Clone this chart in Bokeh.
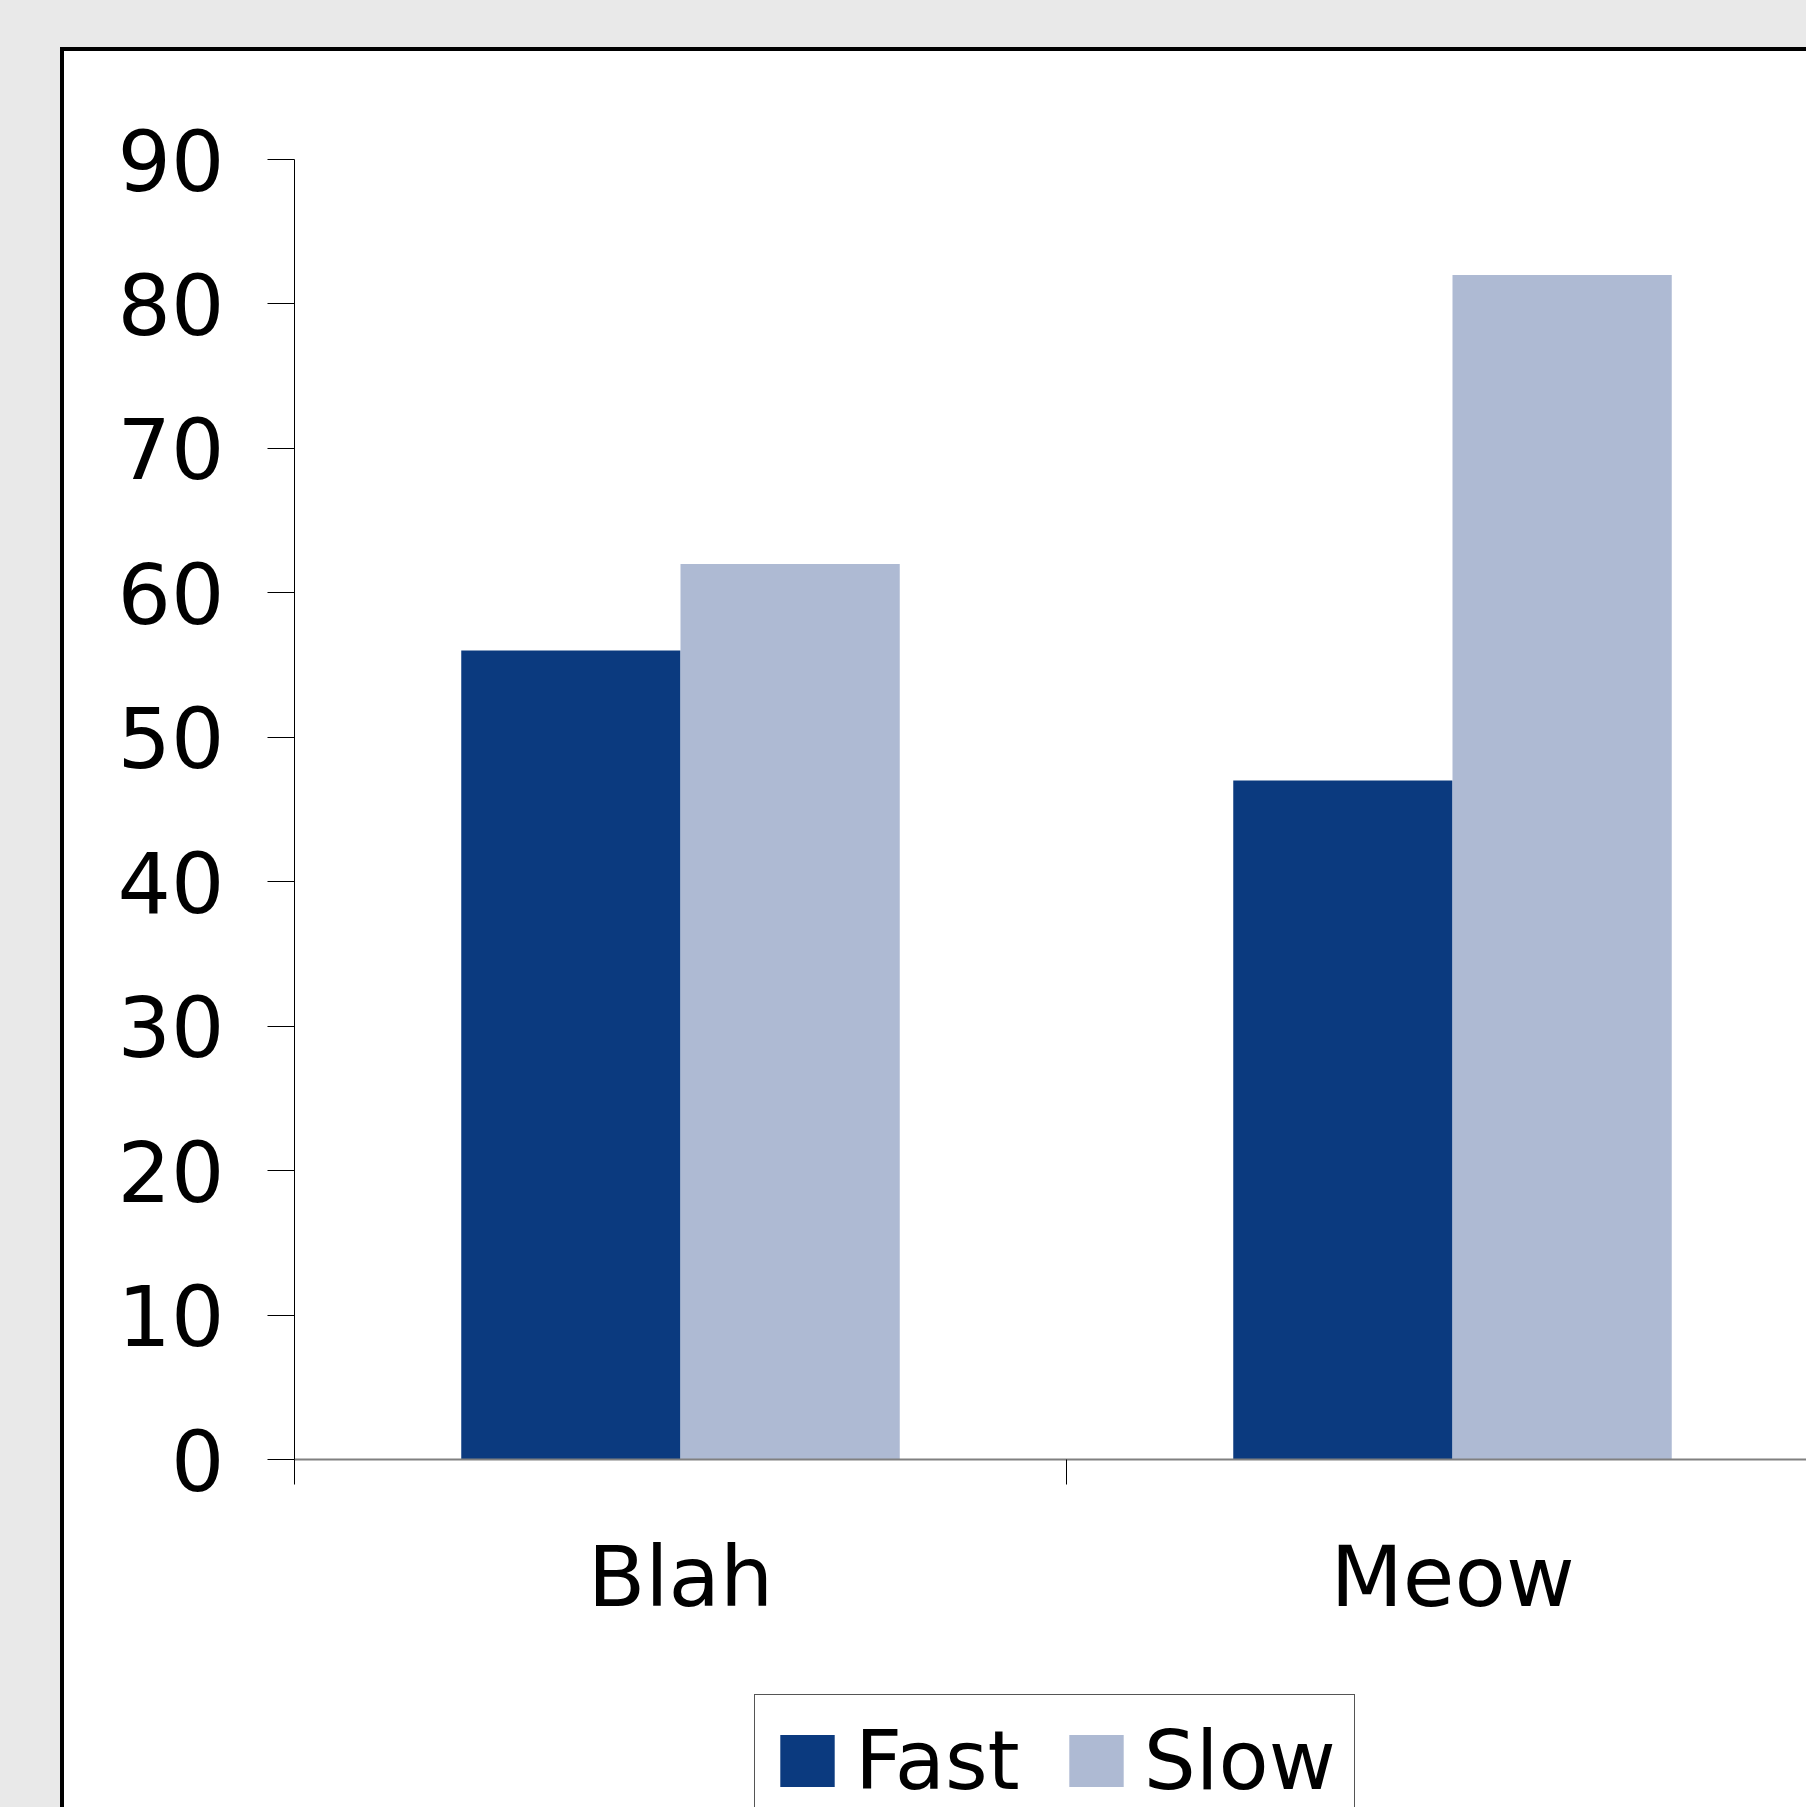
from bokeh.plotting import figure
from bokeh.models import FixedTicker, Legend, LegendItem, Range1d, Spacer, LinearAxis
from bokeh.layouts import column, row
from bokeh.embed import file_html
from bokeh.resources import INLINE

# ---- data ----
categories = ["Blah", "Meow"]
series = ["Fast", "Slow"]
fast_values = [56, 47]
slow_values = [62, 82]
y_ticks = [0, 10, 20, 30, 40, 50, 60, 70, 80, 90]

# ---- styles / geometry ----
colors = ["#0b3a7f", "#aebad3"]
FONT = "DejaVu Sans"
GRAY = "#e9e9e9"
PW, PH = 1742, 1756          # plot (white area) size
AX_LEFT, AX_TOP, AX_BOTTOM = 230, 108, 348   # pixel offsets of the axes box
CAT_PX = 772                 # pixel width of one category
Y_PX = (PH - AX_TOP - AX_BOTTOM) / 90.0
BAR_W = 0.284

x_start = -AX_LEFT / CAT_PX
x_end = (PW - AX_LEFT) / CAT_PX
y_start = -AX_BOTTOM / Y_PX
y_end = 90 + AX_TOP / Y_PX

p = figure(width=PW, height=PH,
           x_range=Range1d(x_start, x_end), y_range=Range1d(y_start, y_end),
           x_axis_type=None, y_axis_type=None,
           output_backend="svg", toolbar_location=None,
           min_border_left=0, min_border_top=0,
           min_border_bottom=0, min_border_right=0)
p.outline_line_color = None
p.background_fill_color = "white"
p.border_fill_color = "white"

yax = LinearAxis(ticker=FixedTicker(ticks=y_ticks), fixed_location=0, bounds=(0, 90))
yax.axis_line_color = "black"
yax.axis_line_width = 1
yax.major_tick_out = 27
yax.major_tick_in = 0
yax.major_tick_line_color = "black"
yax.minor_tick_line_color = None
yax.major_label_standoff = 43
yax.major_label_text_font = FONT
yax.major_label_text_font_size = "84px"
yax.major_label_text_color = "black"
p.add_layout(yax, "left")

centers = [i + 0.5 for i in range(len(categories))]
xax = LinearAxis(ticker=FixedTicker(ticks=centers,
                                    minor_ticks=list(range(len(categories) + 1))),
                 fixed_location=0, bounds=(0, x_end))
xax.major_label_overrides = {c: lab for c, lab in zip(centers, categories)}
xax.axis_line_color = "#808080"
xax.axis_line_width = 2
xax.major_tick_line_color = None
xax.major_tick_out = 0
xax.major_tick_in = 0
xax.minor_tick_line_color = "black"
xax.minor_tick_out = 25
xax.minor_tick_in = 0
xax.major_label_standoff = 43
xax.major_label_text_font = FONT
xax.major_label_text_font_size = "84px"
xax.major_label_text_color = "black"
p.add_layout(xax, "below")

r1 = p.vbar(x=[c - BAR_W / 2 for c in centers], top=fast_values, width=BAR_W,
            bottom=0, fill_color=colors[0], line_color=None)
r2 = p.vbar(x=[c + BAR_W / 2 for c in centers], top=slow_values, width=BAR_W,
            bottom=0, fill_color=colors[1], line_color=None)

legend = Legend(items=[LegendItem(label=series[0], renderers=[r1]),
                       LegendItem(label=series[1], renderers=[r2])],
                orientation="horizontal", location=(690, -20),
                label_text_font=FONT, label_text_font_size="82px",
                label_text_color="black",
                glyph_width=68, glyph_height=65, label_standoff=14,
                spacing=42, padding=18, margin=0,
                border_line_color="#555555", border_line_width=1,
                border_line_alpha=1.0,
                background_fill_color="white", background_fill_alpha=1)
p.add_layout(legend)

gray_top = Spacer(width=1806, height=47, styles={"background-color": GRAY})
gray_left = Spacer(width=60, height=1760, styles={"background-color": GRAY})
black_top = Spacer(width=1746, height=4, styles={"background-color": "black"})
black_left = Spacer(width=4, height=PH, styles={"background-color": "black"})

page = column(gray_top, row(gray_left, column(black_top, row(black_left, p))))

open("out.html", "w").write(file_html(page, INLINE))
